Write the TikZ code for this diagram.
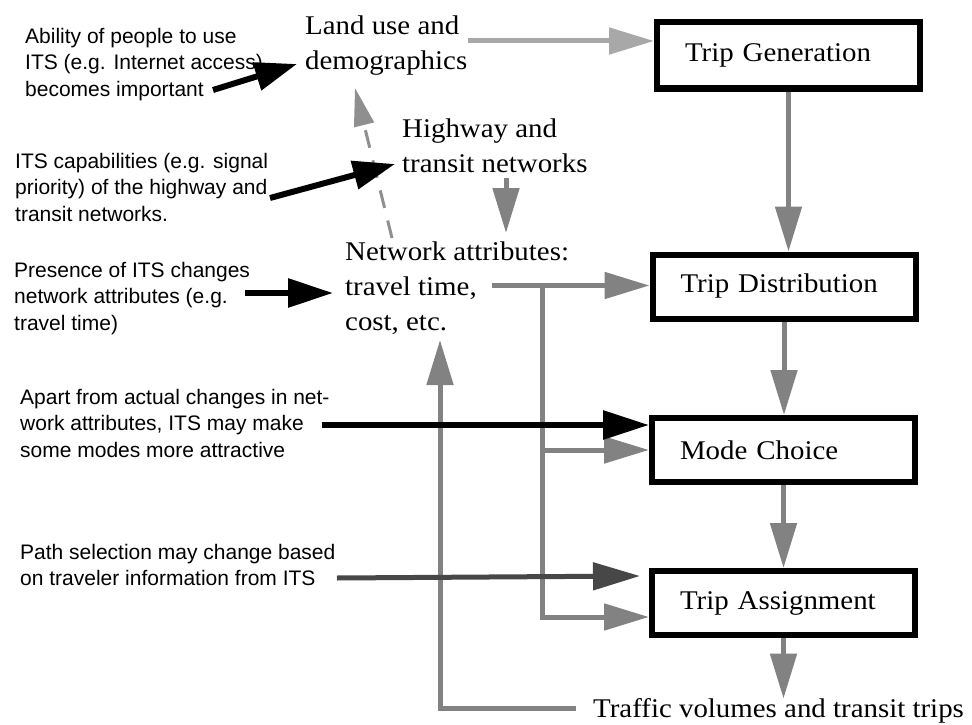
\documentclass[tikz,border=0pt]{standalone}
\usepackage{fontspec}
\setmainfont{Liberation Serif}[FakeStretch=1.07]
\newfontfamily\labelsans{Liberation Sans}
\usetikzlibrary{arrows.meta}
\definecolor{flowgray}{HTML}{828282}
\definecolor{lightflow}{HTML}{A8A8A8}
\definecolor{dashgray}{HTML}{8F8F8F}
\definecolor{darkflow}{HTML}{474747}
\tikzset{
  stagebox/.style={draw=black, line width=6pt, minimum height=64pt,
    inner xsep=28pt, inner ysep=0pt, text width=207pt, align=left,
    font=\fontsize{27}{30}\selectfont},
  stagetext/.style={anchor=north west, inner sep=0pt, align=left},
  serifA/.style={stagetext, font=\fontsize{27}{35}\selectfont},
  note/.style={stagetext, font=\labelsans\fontsize{21}{26.5}\selectfont},
  flow/.style={draw=flowgray, line width=5pt, -{Triangle[length=45pt,width=26pt]}},
  itsarrow/.style={draw=black, line width=6pt, -{Triangle[length=42pt,width=28pt]}},
  dashflow/.style={draw=dashgray, line width=3pt, dash pattern=on 18pt off 13pt,
    -{Triangle[length=38pt,width=20pt]}},
}
\begin{document}
\begin{tikzpicture}[x=1pt, y=-1pt]
\useasboundingbox (0,0) rectangle (972,725);

% four-step model stages
\node[stagebox, minimum height=66pt] (tg) at (788.5,55.5) {Trip Generation};
\node[stagebox] (td) at (784,286.5) {Trip Distribution};
\node[stagebox] (mc) at (783.5,450) {Mode Choice};
\node[stagebox] (ta) at (783.5,603) {Trip Assignment};

% model inputs and outputs
\node[serifA] (land) at (305,15.6) {Land use and\\demographics};
\node[serifA] (hw) at (402,118.6) {Highway and\\transit networks};
\node[serifA] (net) at (345,241.6) {Network attributes:\\travel time,\\cost, etc.};
\node[serifA] (traf) at (593,698.6) {Traffic volumes and transit trips};

% ITS notes
\node[note] (ability) at (25,27.8) {Ability of people to use\\ITS (e.g. Internet access)\\becomes important};
\node[note] (capab) at (15,152.7) {ITS capabilities (e.g. signal\\priority) of the highway and\\transit networks.};
\node[note] (presence) at (14,262) {Presence of ITS changes\\network attributes (e.g.\\travel time)};
\node[note] (apart) at (20,389) {Apart from actual changes in net-\\work attributes, ITS may make\\some modes more attractive};
\node[note] (pathsel) at (20,544) {Path selection may change based\\on traveler information from ITS};

% connector end points
\coordinate (landS) at (468,41);
\coordinate (hwS) at (506,178);
\coordinate (hwT) at (506,233);
\coordinate (netS) at (492,285.5);
\coordinate (brMC) at (542,450);
\coordinate (brTA) at (542,617);
\coordinate (fbS) at (576,708);
\coordinate (fbT) at (440,340);
\coordinate (dashS) at (392,238);
\coordinate (dashT) at (355,88);
\coordinate (abS) at (213,90);
\coordinate (abT) at (297,64);
\coordinate (capS) at (270,198);
\coordinate (capT) at (395,164);
\coordinate (preS) at (245,293);
\coordinate (preT) at (333,293);
\coordinate (apS) at (322,425);
\coordinate (pathS) at (337,578);
\coordinate (pathT) at (640,576);

% main model flow
\draw[flow, draw=lightflow] (landS) -- (landS -| tg.west);
\draw[flow] (tg.south) -- (tg.south |- td.north);
\draw[flow] (td.south) -- (td.south |- mc.north);
\draw[flow] (mc.south) -- (mc.south |- ta.north);
\draw[flow] (ta.south) -- (ta.south |- traf.north);
\draw[flow] (hwS) -- (hwT);
\draw[flow] (netS) -- (netS -| td.west);
\draw[flow] (brMC |- netS) |- (brTA -| ta.west);
\draw[flow] (brMC) -- (brMC -| mc.west);
\draw[flow] (fbS) -| (fbT);
\draw[dashflow] (dashS) -- (dashT);

% ITS influences
\draw[itsarrow] (abS) -- (abT);
\draw[itsarrow] (capS) -- (capT);
\draw[itsarrow, -{Triangle[length=45pt,width=28pt]}] (preS) -- (preT);
\draw[itsarrow, -{Triangle[length=46pt,width=28pt]}] (apS) -- (apS -| mc.west);
\draw[itsarrow, draw=darkflow, line width=5pt, -{Triangle[length=47pt,width=27pt]}] (pathS) -- (pathT);
\end{tikzpicture}
\end{document}
